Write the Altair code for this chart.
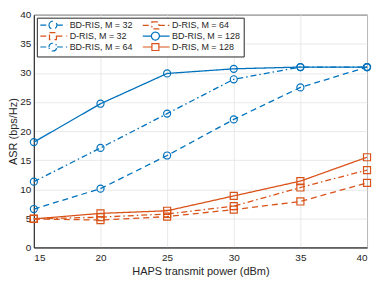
import altair as alt
import pandas as pd

power = [15, 20, 25, 30, 35, 40]
bd32 = [6.6, 10.1, 15.8, 22.0, 27.5, 31.0]
bd64 = [11.3, 17.1, 23.0, 28.9, 31.0, 31.0]
bd128 = [18.1, 24.7, 29.9, 30.7, 31.0, 31.0]
d32 = [4.9, 4.7, 5.3, 6.5, 7.9, 11.1]
d64 = [4.9, 5.2, 5.75, 7.1, 10.3, 13.3]
d128 = [4.9, 5.85, 6.3, 8.85, 11.4, 15.5]

names = ["BD-RIS,  M = 32", "D-RIS, M = 32", "BD-RIS, M = 64",
         "D-RIS, M = 64", "BD-RIS, M = 128", "D-RIS, M = 128"]
series_vals = [bd32, d32, bd64, d64, bd128, d128]
markers = ["circle", "square", "circle", "square", "circle", "square"]

BLUE = "#0072BD"
ORANGE = "#D95319"
colors = [BLUE, ORANGE, BLUE, ORANGE, BLUE, ORANGE]
DASH = [6, 4]
DASHDOT = [6, 3, 1.5, 3]
SOLID = [1, 0]
dashes = [DASH, DASH, DASHDOT, DASHDOT, SOLID, SOLID]

# legend glyphs: line sample with marker, drawn to the right of the symbol centre
CIRC_LEG = ("M-1.333,0H1.567M4.233,0H7.667M1.567,0A1.333,1.333 0 1,1 4.233,0"
            "A1.333,1.333 0 1,1 1.567,0Z")
SQ_LEG = "M-1.333,0H1.733M4.067,0H7.667M1.733,-1.167H4.067V1.167H1.733Z"
leg_shapes = [CIRC_LEG if m == "circle" else SQ_LEG for m in markers]

rows = []
for n, vals, m in zip(names, series_vals, markers):
    for p, v in zip(power, vals):
        rows.append({"series": n, "power": p, "asr": v, "marker": m})
df = pd.DataFrame(rows)

color_scale = alt.Scale(domain=names, range=colors)
dash_scale = alt.Scale(domain=names, range=dashes)
shape_scale = alt.Scale(domain=names, range=leg_shapes)

FONT = "Liberation Sans"
TXT = "#262626"

legend = alt.Legend(
    title=None, orient="top-left", offset=3, columns=2,
    fillColor="white", strokeColor=TXT, padding=3,
    rowPadding=-2, columnPadding=5, labelFontSize=9, labelFont=FONT,
    labelColor=TXT, labelOffset=21, symbolSize=36, symbolStrokeWidth=1.2,
    symbolFillColor="transparent", labelLimit=200,
)

x = alt.X("power:Q", scale=alt.Scale(domain=[15, 40], nice=False),
          axis=alt.Axis(values=power, title="HAPS transmit power (dBm)"))
y = alt.Y("asr:Q", scale=alt.Scale(domain=[0, 40], nice=False),
          axis=alt.Axis(values=[0, 5, 10, 15, 20, 25, 30, 35, 40],
                        title="ASR (bps/Hz)", titleX=-15))

lines = alt.Chart(df).mark_line(strokeWidth=1.3).encode(
    x=x, y=y,
    color=alt.Color("series:N", scale=color_scale, legend=legend),
    strokeDash=alt.StrokeDash("series:N", scale=dash_scale, legend=legend),
    shape=alt.Shape("series:N", scale=shape_scale, legend=legend),
    fill=alt.value("transparent"),
    detail="series:N",
)

circles = alt.Chart(df).transform_filter(alt.datum.marker == "circle").mark_point(
    shape="circle", filled=False, size=50, strokeWidth=1.2, opacity=1
).encode(x=x, y=y, color=alt.Color("series:N", scale=color_scale, legend=legend),
         fill=alt.value("transparent"))

squares = alt.Chart(df).transform_filter(alt.datum.marker == "square").mark_point(
    shape="square", filled=False, size=50, strokeWidth=1.2, opacity=1
).encode(x=x, y=y, color=alt.Color("series:N", scale=color_scale, legend=legend),
         fill=alt.value("transparent"))

chart = alt.layer(lines, circles, squares).properties(
    width=335, height=234,
    autosize=alt.AutoSizeParams(type="none"),
    padding={"left": 26, "top": 6, "right": 6, "bottom": 30},
    background="white",
).configure_view(stroke=TXT, strokeWidth=1).configure_axis(
    grid=True, gridColor="#e3e3e3", gridWidth=0.8,
    domainColor=TXT, domainWidth=1, ticks=False,
    labelFont=FONT, labelFontSize=10, labelColor=TXT, labelPadding=3,
    titleFont=FONT, titleFontSize=11, titleColor=TXT, titleFontWeight="normal",
).configure_axisX(titlePadding=3, labelPadding=5)

chart.save("out.html", embed_options={"renderer": "svg", "actions": False})
